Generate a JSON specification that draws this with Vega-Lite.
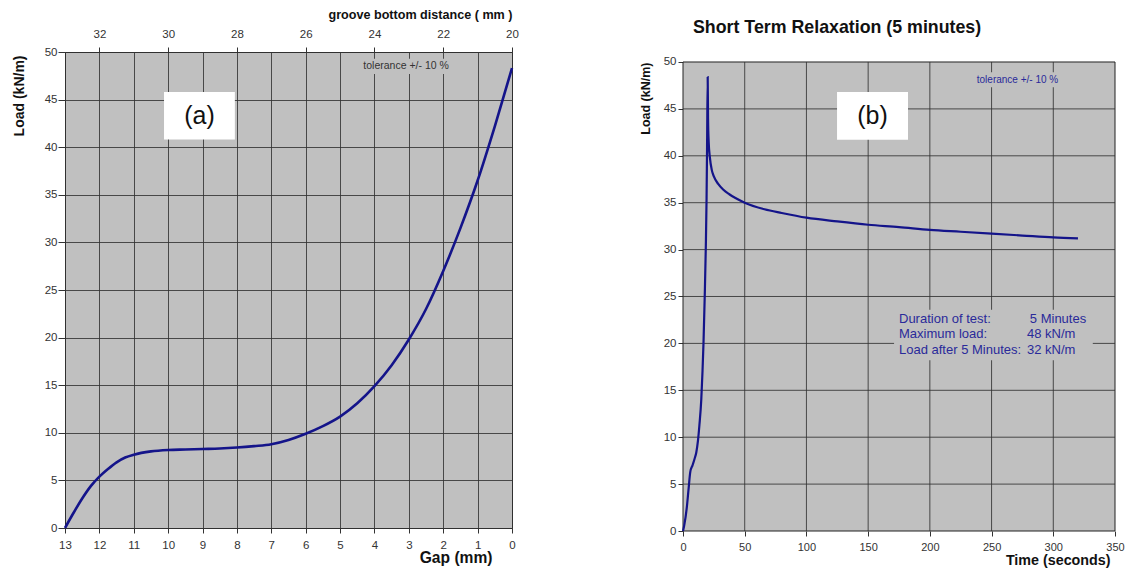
{
  "$schema": "https://vega.github.io/schema/vega-lite/v6.json",
  "padding": {"left": 11, "top": 7, "right": 0, "bottom": 0},
  "background": "white",
  "config": {
    "font": "Liberation Sans",
    "view": {"fill": "#c0c0c0", "stroke": "#222222", "strokeWidth": 1},
    "axis": {
      "labelFont": "Liberation Sans", "labelFontSize": 11.5, "labelColor": "#333333", "labelFlush": false,
      "titleFont": "Liberation Sans", "titleFontWeight": "bold", "titleColor": "#111111",
      "gridColor": "#333333", "gridOpacity": 0.85, "gridWidth": 1,
      "domain": false, "tickColor": "#333333", "tickSize": 5
    }
  },
  "datasets": {
    "gapcurve": [
      {"gap": 13, "load": 0}, {"gap": 12.75, "load": 1.6}, {"gap": 12.5, "load": 3.1}, {"gap": 12.25, "load": 4.4},
      {"gap": 12, "load": 5.4}, {"gap": 11.75, "load": 6.2}, {"gap": 11.5, "load": 6.9}, {"gap": 11.25, "load": 7.4},
      {"gap": 11, "load": 7.7}, {"gap": 10.5, "load": 8.05}, {"gap": 10, "load": 8.2}, {"gap": 9.5, "load": 8.25},
      {"gap": 9, "load": 8.3}, {"gap": 8.5, "load": 8.35}, {"gap": 8, "load": 8.45}, {"gap": 7.5, "load": 8.6},
      {"gap": 7, "load": 8.8}, {"gap": 6.5, "load": 9.25}, {"gap": 6, "load": 9.9}, {"gap": 5.5, "load": 10.7},
      {"gap": 5, "load": 11.7}, {"gap": 4.5, "load": 13.1}, {"gap": 4, "load": 14.9}, {"gap": 3.5, "load": 17.1},
      {"gap": 3, "load": 19.8}, {"gap": 2.5, "load": 23.0}, {"gap": 2, "load": 27.0}, {"gap": 1.5, "load": 31.5},
      {"gap": 1, "load": 36.5}, {"gap": 0.5, "load": 42.2}, {"gap": 0, "load": 48.3}
    ],
    "relax": [
      {"t": 0, "load": 0}, {"t": 1, "load": 0.6}, {"t": 3, "load": 2.4}, {"t": 4.6, "load": 4.6},
      {"t": 5.9, "load": 6.3}, {"t": 7.7, "load": 7.0}, {"t": 9.4, "load": 7.7}, {"t": 10.8, "load": 8.4},
      {"t": 12.1, "load": 9.6}, {"t": 13.3, "load": 11.3}, {"t": 14.8, "load": 14}, {"t": 15.8, "load": 17},
      {"t": 16.6, "load": 20}, {"t": 17.6, "load": 25}, {"t": 18.5, "load": 30.4}, {"t": 19.1, "load": 35.5},
      {"t": 19.5, "load": 40.9}, {"t": 20.0, "load": 48.4}, {"t": 20.3, "load": 44}, {"t": 20.8, "load": 41.5},
      {"t": 21.8, "load": 39.8}, {"t": 23.3, "load": 38.5}, {"t": 25, "load": 37.8}, {"t": 28.5, "load": 37.0},
      {"t": 32.5, "load": 36.4}, {"t": 37.5, "load": 35.9}, {"t": 42.5, "load": 35.5}, {"t": 50, "load": 35.0},
      {"t": 66, "load": 34.3}, {"t": 80, "load": 33.9}, {"t": 100, "load": 33.4}, {"t": 125, "load": 33.0},
      {"t": 150, "load": 32.65}, {"t": 175, "load": 32.4}, {"t": 200, "load": 32.1}, {"t": 225, "load": 31.9},
      {"t": 250, "load": 31.7}, {"t": 275, "load": 31.5}, {"t": 300, "load": 31.3}, {"t": 320, "load": 31.2}
    ],
    "vgrid": [{"t": 50}, {"t": 100}, {"t": 150}, {"t": 200}, {"t": 250}, {"t": 300}],
    "hgrid": [{"load": 5}, {"load": 10}, {"load": 15}, {"load": 20}, {"load": 25}, {"load": 30}, {"load": 35}, {"load": 40}, {"load": 45}]
  },
  "spacing": 120,
  "hconcat": [
    {
      "width": 447,
      "height": 476,
      "resolve": {"axis": {"x": "independent"}},
      "layer": [
        {
          "data": {"values": [{}]},
          "mark": {"type": "rect", "fill": "#c0c0c0"},
          "encoding": {
            "x": {"datum": 4.42, "type": "quantitative", "axis": null},
            "x2": {"datum": 1.75},
            "y": {"datum": 47.7, "type": "quantitative"},
            "y2": {"datum": 49.3}
          }
        },
        {
          "data": {"name": "gapcurve"},
          "mark": {"type": "line", "color": "#14148a", "strokeWidth": 2.6, "interpolate": "monotone"},
          "encoding": {
            "x": {
              "field": "gap", "type": "quantitative",
              "scale": {"domain": [0, 13], "reverse": true, "nice": false, "zero": false},
              "axis": {
                "values": [0, 1, 2, 3, 4, 5, 6, 7, 8, 9, 10, 11, 12, 13],
                "title": "Gap (mm)", "titleFontSize": 15.6, "titleX": 427, "titleAlign": "right",
                "labelPadding": 6, "titlePadding": 0, "grid": true, "tickSize": 5
              }
            },
            "y": {
              "field": "load", "type": "quantitative",
              "scale": {"domain": [0, 50], "nice": false},
              "axis": {
                "values": [0, 5, 10, 15, 20, 25, 30, 35, 40, 45, 50],
                "title": "Load (kN/m)", "titleAnchor": "end", "titleY": 3, "titleFontSize": 14,
                "tickSize": 7, "labelPadding": 1, "titlePadding": 18, "grid": true
              }
            }
          }
        },
        {
          "data": {"values": [{}]},
          "mark": {"type": "text", "text": "tolerance +/- 10 %", "font": "Liberation Sans", "fontSize": 10.5, "color": "#333333"},
          "encoding": {
            "x": {
              "datum": 3.08, "type": "quantitative",
              "axis": {
                "orient": "top", "values": [0, 2, 4, 6, 8, 10, 12], "labelExpr": "datum.value + 20",
                "title": "groove bottom distance ( mm )", "titleAnchor": "start", "titleAlign": "right", "titleFontSize": 12.6,
                "labelPadding": 8, "titlePadding": 7, "grid": false, "tickSize": 5
              }
            },
            "y": {"datum": 48.5, "type": "quantitative"}
          }
        },
        {
          "data": {"values": [{}]},
          "mark": {"type": "rect", "fill": "white"},
          "encoding": {
            "x": {"datum": 10.12, "type": "quantitative", "axis": null},
            "x2": {"datum": 8.06},
            "y": {"datum": 40.8, "type": "quantitative"},
            "y2": {"datum": 45.8}
          }
        },
        {
          "data": {"values": [{}]},
          "mark": {"type": "text", "text": "(a)", "font": "Liberation Sans", "fontSize": 25, "color": "#111111"},
          "encoding": {
            "x": {"datum": 9.09, "type": "quantitative", "axis": null},
            "y": {"datum": 43.3, "type": "quantitative"}
          }
        }
      ]
    },
    {
      "width": 432,
      "height": 479,
      "view": {"fill": null, "stroke": null},
      "title": {
        "text": "Short Term Relaxation (5 minutes)",
        "fontSize": 17.8, "fontWeight": "bold", "font": "Liberation Sans", "color": "#111111",
        "anchor": "start", "frame": "group", "dx": 10, "offset": 15
      },
      "layer": [
        {
          "data": {"values": [{}]},
          "mark": {"type": "rect", "fill": "#c0c0c0", "stroke": "#222222", "strokeWidth": 1},
          "encoding": {
            "x": {
              "datum": 0, "type": "quantitative",
              "scale": {"domain": [0, 350], "nice": false},
              "axis": {
                "values": [0, 50, 100, 150, 200, 250, 300, 350],
                "title": "Time (seconds)", "titleFontSize": 14.3, "titleX": 427, "titleAlign": "right",
                "labelFontSize": 11, "labelPadding": 5, "titlePadding": 1, "grid": false
              }
            },
            "x2": {"datum": 350},
            "y": {
              "datum": 0, "type": "quantitative",
              "scale": {"domain": [0, 51.066], "nice": false, "zero": true},
              "axis": {
                "values": [0, 5, 10, 15, 20, 25, 30, 35, 40, 45, 50],
                "title": "Load (kN/m)", "titleAnchor": "end", "titleY": 10, "titleFontSize": 12.5,
                "labelFontSize": 11.5, "tickSize": 5, "labelPadding": 2, "titlePadding": 11, "grid": false
              }
            },
            "y2": {"datum": 50}
          }
        },
        {
          "data": {"name": "vgrid"},
          "mark": {"type": "rule", "color": "#333333", "opacity": 0.85, "strokeWidth": 1},
          "encoding": {
            "x": {"field": "t", "type": "quantitative"},
            "y": {"datum": 0, "type": "quantitative"},
            "y2": {"datum": 50}
          }
        },
        {
          "data": {"name": "hgrid"},
          "mark": {"type": "rule", "color": "#333333", "opacity": 0.85, "strokeWidth": 1},
          "encoding": {
            "y": {"field": "load", "type": "quantitative"},
            "x": {"datum": 0, "type": "quantitative"},
            "x2": {"datum": 350}
          }
        },
        {
          "data": {"values": [{}]},
          "mark": {"type": "rect", "fill": "#c0c0c0"},
          "encoding": {
            "x": {"datum": 171, "type": "quantitative"},
            "x2": {"datum": 332},
            "y": {"datum": 18.2, "type": "quantitative"},
            "y2": {"datum": 23.6}
          }
        },
        {
          "data": {"values": [{}]},
          "mark": {"type": "rect", "fill": "#c0c0c0"},
          "encoding": {
            "x": {"datum": 236, "type": "quantitative"},
            "x2": {"datum": 305},
            "y": {"datum": 47.3, "type": "quantitative"},
            "y2": {"datum": 48.9}
          }
        },
        {
          "data": {"name": "relax"},
          "mark": {"type": "line", "color": "#14148a", "strokeWidth": 2.2, "interpolate": "monotone"},
          "encoding": {
            "x": {"field": "t", "type": "quantitative"},
            "y": {"field": "load", "type": "quantitative"}
          }
        },
        {
          "data": {"values": [{}]},
          "mark": {"type": "text", "text": "tolerance +/- 10 %", "font": "Liberation Sans", "fontSize": 10, "color": "#2a2a9a"},
          "encoding": {
            "x": {"datum": 271, "type": "quantitative"},
            "y": {"datum": 48.1, "type": "quantitative"}
          }
        },
        {
          "data": {"values": [{}]},
          "mark": {"type": "text", "text": "Duration of test:", "align": "left", "font": "Liberation Sans", "fontSize": 13, "color": "#2a2a9a"},
          "encoding": {"x": {"datum": 175, "type": "quantitative"}, "y": {"datum": 22.6, "type": "quantitative"}}
        },
        {
          "data": {"values": [{}]},
          "mark": {"type": "text", "text": "Maximum load:", "align": "left", "font": "Liberation Sans", "fontSize": 13, "color": "#2a2a9a"},
          "encoding": {"x": {"datum": 175, "type": "quantitative"}, "y": {"datum": 21.0, "type": "quantitative"}}
        },
        {
          "data": {"values": [{}]},
          "mark": {"type": "text", "text": "Load after 5 Minutes:", "align": "left", "font": "Liberation Sans", "fontSize": 13, "color": "#2a2a9a"},
          "encoding": {"x": {"datum": 175, "type": "quantitative"}, "y": {"datum": 19.3, "type": "quantitative"}}
        },
        {
          "data": {"values": [{}]},
          "mark": {"type": "text", "text": "5 Minutes", "align": "left", "font": "Liberation Sans", "fontSize": 13, "color": "#2a2a9a"},
          "encoding": {"x": {"datum": 281, "type": "quantitative"}, "y": {"datum": 22.6, "type": "quantitative"}}
        },
        {
          "data": {"values": [{}]},
          "mark": {"type": "text", "text": "48 kN/m", "align": "left", "font": "Liberation Sans", "fontSize": 13, "color": "#2a2a9a"},
          "encoding": {"x": {"datum": 278.7, "type": "quantitative"}, "y": {"datum": 21.0, "type": "quantitative"}}
        },
        {
          "data": {"values": [{}]},
          "mark": {"type": "text", "text": "32 kN/m", "align": "left", "font": "Liberation Sans", "fontSize": 13, "color": "#2a2a9a"},
          "encoding": {"x": {"datum": 278.7, "type": "quantitative"}, "y": {"datum": 19.3, "type": "quantitative"}}
        },
        {
          "data": {"values": [{}]},
          "mark": {"type": "rect", "fill": "white"},
          "encoding": {
            "x": {"datum": 124.8, "type": "quantitative"},
            "x2": {"datum": 182.3},
            "y": {"datum": 41.7, "type": "quantitative"},
            "y2": {"datum": 46.8}
          }
        },
        {
          "data": {"values": [{}]},
          "mark": {"type": "text", "text": "(b)", "font": "Liberation Sans", "fontSize": 25, "color": "#111111"},
          "encoding": {"x": {"datum": 153.5, "type": "quantitative"}, "y": {"datum": 44.25, "type": "quantitative"}}
        }
      ]
    }
  ]
}
